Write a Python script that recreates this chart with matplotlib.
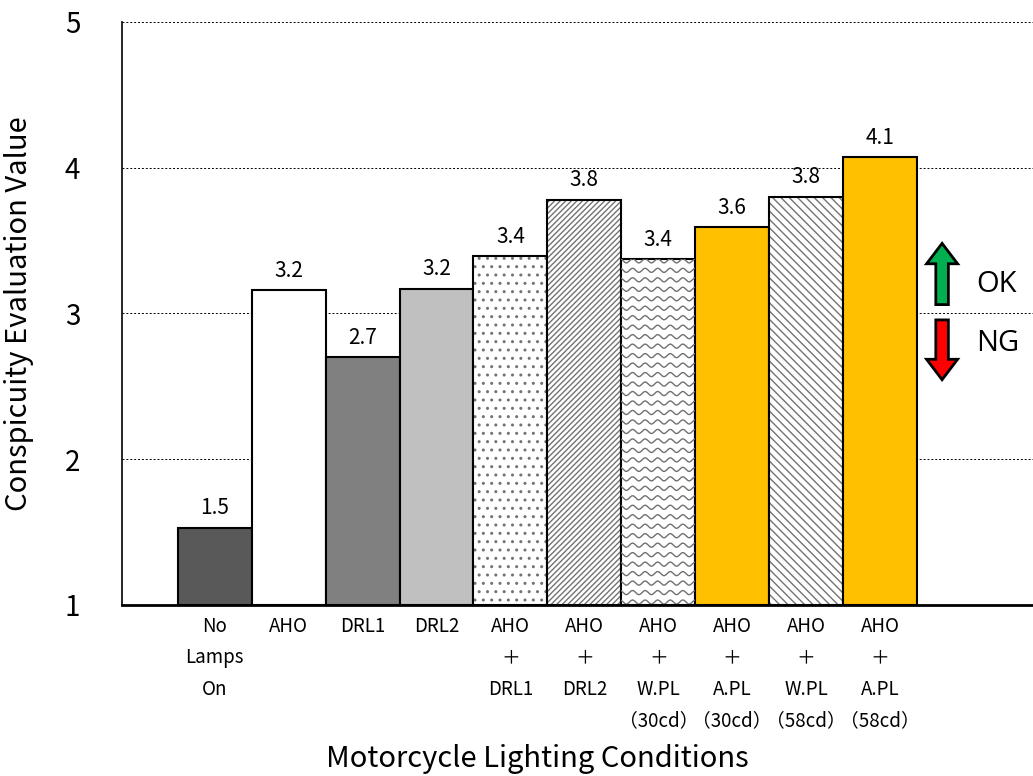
import numpy as np
import matplotlib
matplotlib.use("Agg")
import matplotlib.pyplot as plt
from matplotlib.patches import FancyArrow

plt.rcParams['font.family'] = ['Noto Sans CJK JP', 'DejaVu Sans']
plt.rcParams['hatch.linewidth'] = 1.0

conditions = ['No\nLamps\nOn', 'AHO', 'DRL1', 'DRL2',
              'AHO\n＋\nDRL1', 'AHO\n＋\nDRL2', 'AHO\n＋\nW.PL\n（30cd）',
              'AHO\n＋\nA.PL\n（30cd）', 'AHO\n＋\nW.PL\n（58cd）', 'AHO\n＋\nA.PL\n（58cd）']
values = [1.53, 3.16, 2.70, 3.17, 3.39, 3.78, 3.37, 3.59, 3.80, 4.07]
value_labels = ['1.5', '3.2', '2.7', '3.2', '3.4', '3.8', '3.4', '3.6', '3.8', '4.1']
face_colors = ['#595959', 'white', '#808080', '#c0c0c0', 'white', 'white',
               'white', '#ffc000', 'white', '#ffc000']
hatches = [None, None, None, None, '..', '//////', None, None, '\\\\\\\\', None]

fig = plt.figure(figsize=(10.33, 7.76), dpi=100)
ax = fig.add_axes([0.118, 0.2204, 0.882, 0.7516])

x = np.arange(len(values))
bars = ax.bar(x, np.array(values) - 1, bottom=1, width=1.0, color=face_colors,
              edgecolor='black', linewidth=1.5, zorder=3)
for b, h in zip(bars, hatches):
    if h:
        b.set_hatch(h)
        b._hatch_color = (0.45, 0.45, 0.45, 1.0)

# wavy fill for the W.PL (30cd) bar
wave_bar = bars[6]
xs = np.linspace(wave_bar.get_x(), wave_bar.get_x() + 1, 400)
for yy in np.arange(1.02, values[6], 0.065):
    line, = ax.plot(xs, yy + 0.014 * np.sin(2 * np.pi * xs / 0.17),
                    color='#707070', lw=1.0, zorder=3.5)
    line.set_clip_path(wave_bar)

ax.bar_label(bars, labels=value_labels, padding=6, fontsize=15,
             family=['Noto Sans CJK JP', 'DejaVu Sans'])

ax.set_xlim(-1.257, 11.07)
ax.set_ylim(1, 5)
ax.set_yticks([1, 2, 3, 4, 5])
ax.set_xticks(x)
ax.set_xticklabels(conditions, fontsize=13.5, linespacing=1.65, va='top')
ax.tick_params(axis='x', length=0, pad=8)
ax.tick_params(axis='y', length=0, pad=30, labelsize=20)
ax.grid(axis='y', linestyle=(0, (2, 2)), color='black', linewidth=0.7, zorder=0)
ax.spines['top'].set_visible(False)
ax.spines['right'].set_visible(False)
ax.spines['left'].set_linewidth(1.2)
ax.spines['bottom'].set_linewidth(2.0)
ax.spines['bottom'].set_zorder(4)

ax.set_ylabel('Conspicuity Evaluation Value', fontsize=21, labelpad=22)
fig.text(0.52, 0.022, 'Motorcycle Lighting Conditions', fontsize=21,
         ha='center', va='center')

# OK / NG arrows
ax.add_patch(FancyArrow(9.84, 3.06, 0, 0.42, width=0.17, head_width=0.42,
                        head_length=0.14, length_includes_head=True,
                        facecolor='#00b050', edgecolor='black', lw=2, zorder=5))
ax.add_patch(FancyArrow(9.84, 2.955, 0, -0.41, width=0.17, head_width=0.42,
                        head_length=0.14, length_includes_head=True,
                        facecolor='#ff0000', edgecolor='black', lw=2, zorder=5))
ax.text(10.3, 3.2, 'OK', fontsize=21, va='center', ha='left',
        family=['Open Sans', 'DejaVu Sans'])
ax.text(10.3, 2.79, 'NG', fontsize=21, va='center', ha='left',
        family=['Open Sans', 'DejaVu Sans'])

fig.savefig('out.png', dpi=100)
